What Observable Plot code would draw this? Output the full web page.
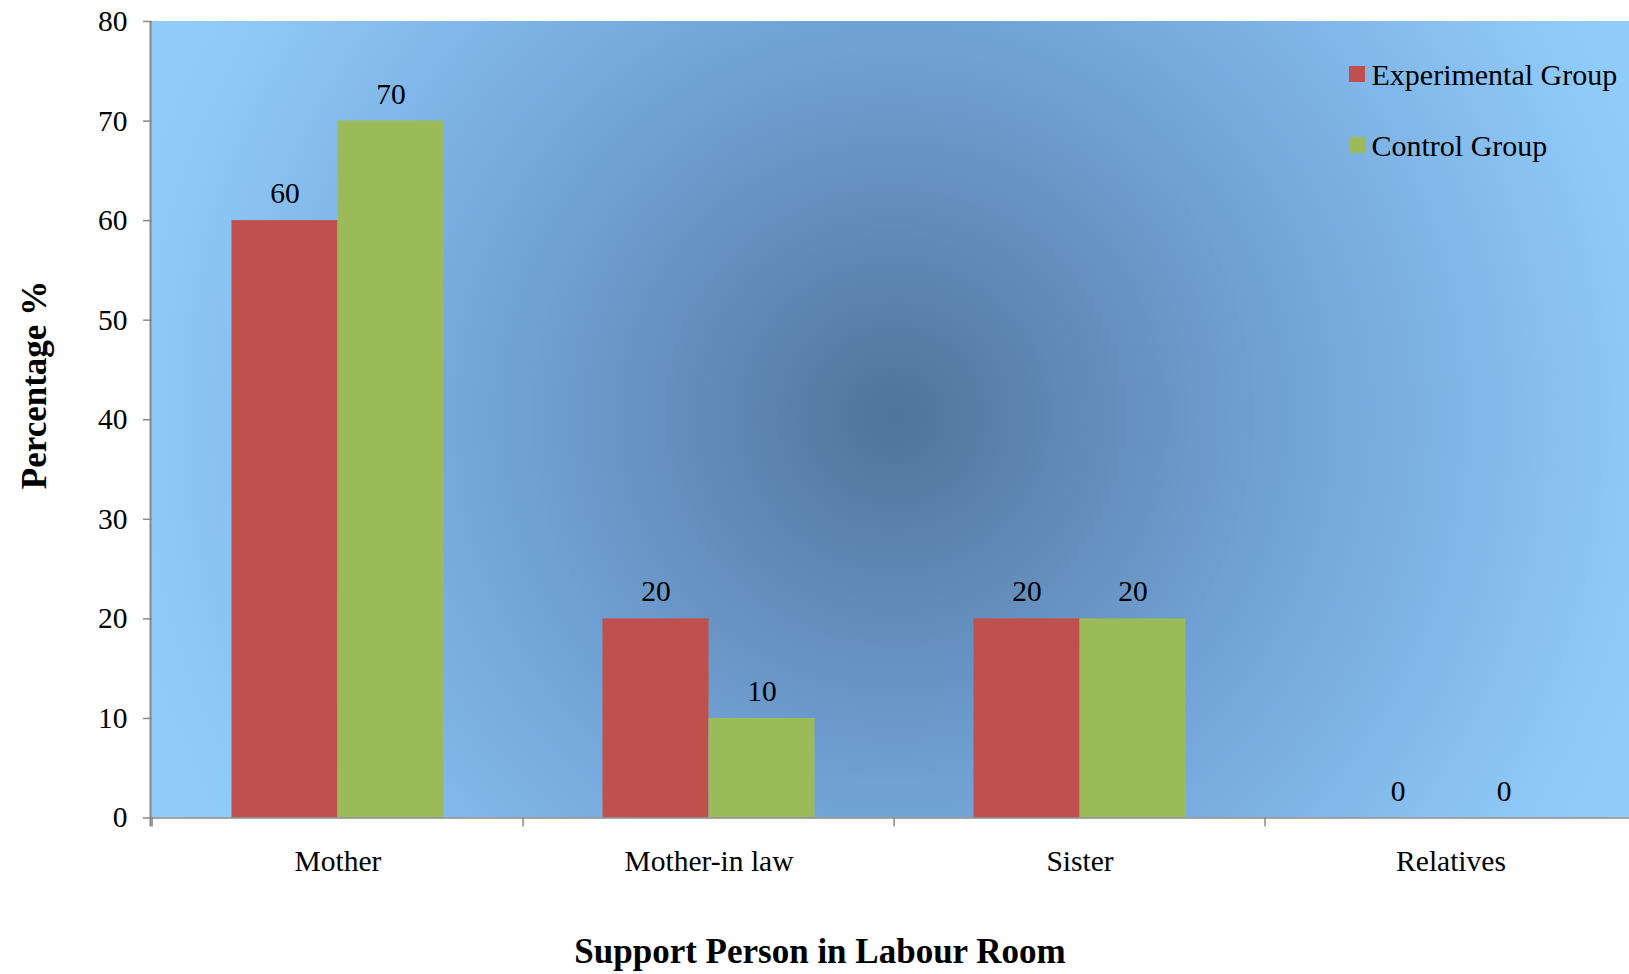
<!DOCTYPE html>
<html><head><meta charset="utf-8">
<script src="https://cdn.jsdelivr.net/npm/d3@7"></script>
<script src="https://cdn.jsdelivr.net/npm/@observablehq/plot@0.6"></script>
<style>
body{margin:0;background:#fff;}
#wrap{position:relative;width:1629px;height:974px;overflow:hidden;font-family:"Liberation Serif","Times New Roman",serif;}
#wrap svg{position:absolute;left:0;top:0;}
#wrap svg text{font-family:"Liberation Serif","Times New Roman",serif !important;}
.legend{position:absolute;left:1349px;top:39.2px;font-size:30px;line-height:71px;color:#000;white-space:nowrap;}
.legend .sw{display:inline-block;width:16px;height:16px;margin-right:6.5px;vertical-align:3px;}
.xtitle{position:absolute;left:820px;top:934px;transform:translateX(-50%);font-size:35px;line-height:35px;font-weight:bold;white-space:nowrap;}
.ytitle{position:absolute;left:33.7px;top:385px;transform:translate(-50%,-50%) rotate(-90deg);font-size:35px;line-height:35px;font-weight:bold;white-space:nowrap;}
</style></head><body><div id="wrap"></div>
<script>
const categories = ["Mother", "Mother-in law", "Sister", "Relatives"];
const groups = ["Experimental Group", "Control Group"];
const experimental = [60, 20, 20, 0];
const control = [70, 10, 20, 0];
const yTicks = [0, 10, 20, 30, 40, 50, 60, 70, 80];
const colors = ["#c0504d", "#9bbb59"];
const xTitle = "Support Person in Labour Room";
const yTitle = "Percentage %";

const data = categories.flatMap((c, i) => [
  {category: c, group: groups[0], value: experimental[i]},
  {category: c, group: groups[1], value: control[i]}
]);

const W = 1629, H = 974, ML = 150.5, MR = -9, MT = 21, MB = H - 817.5;
const step = (W - ML - MR) / categories.length;
const FS = 29.5;
const FF = '"Liberation Serif","Times New Roman",serif';

const plot = Plot.plot({
  width: W, height: H,
  marginLeft: ML, marginRight: MR, marginTop: MT, marginBottom: MB,
  style: {fontFamily: FF, fontSize: FS + "px", color: "#000", background: "transparent", overflow: "visible"},
  fx: {domain: categories, paddingInner: 0, paddingOuter: 0, label: null, axis: null},
  x: {domain: groups, paddingInner: 0, paddingOuter: 0.75, axis: null},
  y: {domain: [0, 80], label: null, axis: null},
  color: {domain: groups, range: colors},
  marks: [
    Plot.barY(data, {fx: "category", x: "group", y: "value", fill: "group"}),
    Plot.text(data, {fx: "category", x: "group", y: "value", text: d => String(d.value), lineAnchor: "bottom", dy: -17.5, fill: "#000", fontSize: FS, fontFamily: FF}),
    Plot.ruleY([0], {stroke: "#888", strokeWidth: 1.6}),
    Plot.axisY({ticks: yTicks, tickSize: 9, tickPadding: 16, stroke: "#888", fill: "#000", label: null, fontSize: FS, fontFamily: FF, strokeWidth: 1.5}),
    Plot.axisFx({anchor: "bottom", tickSize: 0, tickPadding: 32, label: null, fill: "#000", fontSize: FS, fontFamily: FF}),
    Plot.axisFx({anchor: "bottom", tickSize: 9, tickFormat: () => "", label: null, dx: -step / 2, stroke: "#888", strokeWidth: 1.5})
  ]
});

const wrap = document.getElementById("wrap");
wrap.appendChild(plot);

// background gradient + y axis line (decoration)
const svg = d3.select(plot);
const defs = svg.insert("defs", ":first-child");
const cx = ML + (W - ML - MR) / 2, cy = MT + (817.5 - MT) / 2 - 3;
const grad = defs.append("radialGradient").attr("id", "bgGrad")
  .attr("gradientUnits", "userSpaceOnUse").attr("cx", cx).attr("cy", cy).attr("r", 820);
[[0, "#4f749b"], [0.2, "#5f88b4"], [0.45, "#70a0d4"], [0.7, "#80b6e9"], [0.9, "#8dc8f8"], [1, "#90cdfd"]]
  .forEach(([o, c]) => grad.append("stop").attr("offset", o).attr("stop-color", c));
svg.insert("rect", "defs + *").attr("x", ML).attr("y", MT).attr("width", W - ML - MR).attr("height", 817.5 - MT).attr("fill", "url(#bgGrad)");
svg.append("line").attr("x1", ML).attr("x2", ML).attr("y1", MT).attr("y2", 826.5).attr("stroke", "#888").attr("stroke-width", 2);

// legend
const legend = document.createElement("div");
legend.className = "legend";
groups.forEach((g, i) => {
  const row = document.createElement("div");
  const sw = document.createElement("span");
  sw.className = "sw"; sw.style.background = colors[i];
  row.appendChild(sw);
  row.appendChild(document.createTextNode(g));
  legend.appendChild(row);
});
wrap.appendChild(legend);

const xt = document.createElement("div"); xt.className = "xtitle"; xt.textContent = xTitle; wrap.appendChild(xt);
const yt = document.createElement("div"); yt.className = "ytitle"; yt.textContent = yTitle; wrap.appendChild(yt);
</script></body></html>
